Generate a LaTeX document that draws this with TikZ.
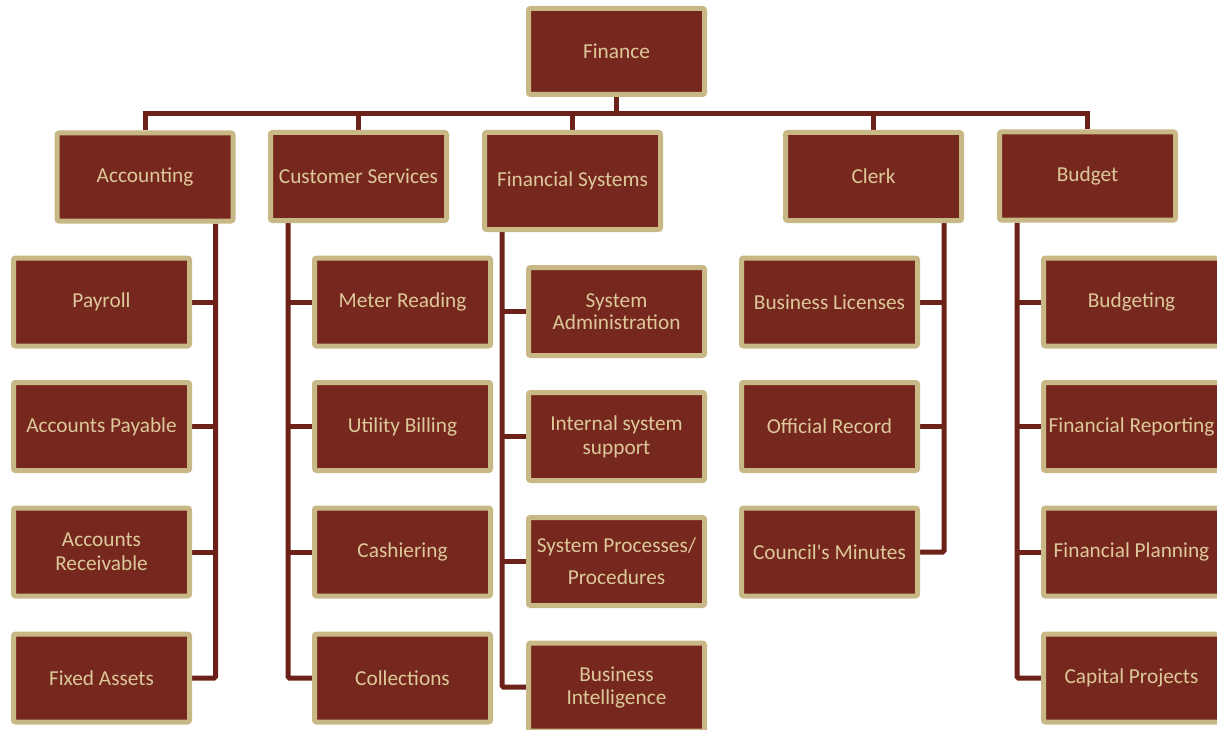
\documentclass[tikz,border=0pt]{standalone}
\usepackage{fontspec}
\setmainfont{Carlito}
\usetikzlibrary{backgrounds}
\definecolor{boxfill}{HTML}{77281E}
\definecolor{boxline}{HTML}{C8B886}
\definecolor{boxtext}{HTML}{DCC899}
\definecolor{connc}{HTML}{6C2219}
\tikzset{
  orgbox/.style={draw=boxline, fill=boxfill, line width=5pt, rounded corners=2pt,
    minimum width=176pt, minimum height=88pt, inner sep=0pt, align=center,
    text=boxtext, font=\fontsize{21.3}{24}\selectfont},
  tallbox/.style={orgbox, minimum height=97pt},
  conn/.style={draw=connc, line width=5pt, rounded corners=1.5pt}
}
\begin{document}
\begin{tikzpicture}[x=1pt,y=-1pt]
\path[use as bounding box, clip] (0,0) rectangle (1217,730);
% top
\node[orgbox, minimum height=86pt] (fin) at (616.5,51.5) {Finance};
% second level
\node[orgbox] (acc) at (145,177) {Accounting};
\node[orgbox] (cs) at (358.5,176.5) {Customer Services};
\node[tallbox] (fs) at (572.5,181) {Financial Systems};
\node[orgbox] (clk) at (873.5,176.5) {Clerk};
\node[orgbox] (bud) at (1087.5,176) {Budget};
% Accounting
\node[orgbox] (pay) at (101.5,302) {Payroll};
\node[orgbox] (ap) at (101.5,426.5) {Accounts Payable};
\node[orgbox] (ar) at (101.5,552) {Accounts\\Receivable};
\node[orgbox] (fa) at (101.5,678) {Fixed Assets};
% Customer Services
\node[orgbox] (mr) at (402.5,302) {Meter Reading};
\node[orgbox] (ub) at (402.5,426.5) {Utility Billing};
\node[orgbox] (cash) at (402.5,552) {Cashiering};
\node[orgbox] (col) at (402.5,678) {Collections};
% Financial Systems
\node[orgbox] (sa) at (616.5,311.5) {System\\[-2pt]Administration};
\node[orgbox] (iss) at (616.5,436.5) {Internal system\\support};
\node[orgbox] (spp) at (616.5,561.5) {System Processes/\\[8pt]Procedures};
\node[orgbox] (bi) at (616.5,687) {Business\\[-1pt]Intelligence};
% Clerk
\node[orgbox] (bl) at (829.5,302) {Business Licenses};
\node[orgbox] (or) at (829.5,426.5) {Official Record};
\node[orgbox] (cm) at (829.5,552) {Council\textquotesingle s Minutes};
% Budget
\node[orgbox] (bdg) at (1131.5,302) {Budgeting};
\node[orgbox] (frep) at (1131.5,426.5) {Financial Reporting};
\node[orgbox] (fpl) at (1131.5,552) {Financial Planning};
\node[orgbox] (cp) at (1131.5,678) {Capital Projects};
% connectors
\begin{scope}[on background layer]
\coordinate (bar) at (0,114);
\draw[conn, rounded corners=0pt] (acc.north) |- (bud.north |- bar) -- (bud.north);
\draw[conn] (fin.south) -- (fin.south |- bar);
\draw[conn] (cs.north) -- (cs.north |- bar);
\draw[conn] (fs.north) -- (fs.north |- bar);
\draw[conn] (clk.north) -- (clk.north |- bar);
% vertical spines
\coordinate (accv) at ([xshift=-20pt]acc.south east);
\coordinate (csv) at ([xshift=20pt]cs.south west);
\coordinate (fsv) at ([xshift=20pt]fs.south west);
\coordinate (clkv) at ([xshift=-20pt]clk.south east);
\coordinate (budv) at ([xshift=20pt]bud.south west);
\draw[conn] (accv) |- (fa.east);
\draw[conn] (pay.east) -- (pay.east -| accv);
\draw[conn] (ap.east) -- (ap.east -| accv);
\draw[conn] (ar.east) -- (ar.east -| accv);
\draw[conn] (csv) |- (col.west);
\draw[conn] (mr.west) -- (mr.west -| csv);
\draw[conn] (ub.west) -- (ub.west -| csv);
\draw[conn] (cash.west) -- (cash.west -| csv);
\draw[conn] (fsv) |- (bi.west);
\draw[conn] (sa.west) -- (sa.west -| fsv);
\draw[conn] (iss.west) -- (iss.west -| fsv);
\draw[conn] (spp.west) -- (spp.west -| fsv);
\draw[conn] (clkv) |- (cm.east);
\draw[conn] (bl.east) -- (bl.east -| clkv);
\draw[conn] (or.east) -- (or.east -| clkv);
\draw[conn] (budv) |- (cp.west);
\draw[conn] (bdg.west) -- (bdg.west -| budv);
\draw[conn] (frep.west) -- (frep.west -| budv);
\draw[conn] (fpl.west) -- (fpl.west -| budv);
\end{scope}
\end{tikzpicture}
\end{document}
